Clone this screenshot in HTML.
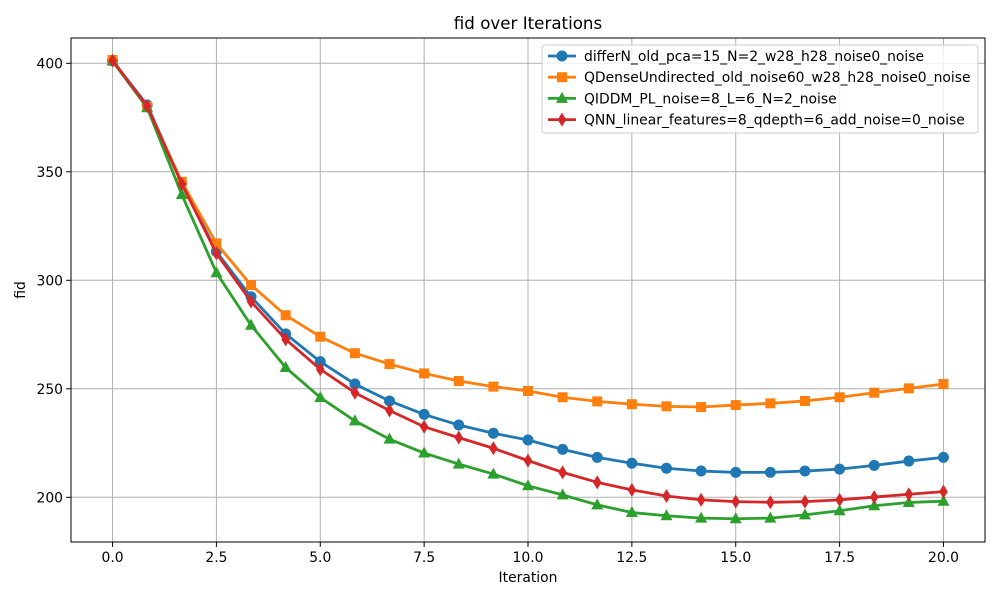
<!DOCTYPE html>
<html><head><meta charset="utf-8"><style>
body{margin:0;background:#fff;}
svg{display:block;font-family:"DejaVu Sans","Liberation Sans",sans-serif;}
</style></head><body>
<svg id="chart" width="1000" height="600" xmlns="http://www.w3.org/2000/svg">
<rect x="0" y="0" width="1000" height="600" fill="#fff"/>
<g id="grid"></g>
<g id="series"></g>
<rect x="71" y="38" width="914" height="504" fill="none" stroke="#000" stroke-width="1"/>
<g id="ticks"></g>
<text x="528" y="29" text-anchor="middle" font-size="16.7">fid over Iterations</text>
<text x="528" y="582" text-anchor="middle" font-size="13.9">Iteration</text>
<text x="25" y="290" text-anchor="middle" font-size="13.9" transform="rotate(-90 25 290)">fid</text>
<g id="legend"></g>
</svg>
<script>
const xTicks=[0,2.5,5,7.5,10,12.5,15,17.5,20];
const xTickLabels=["0.0","2.5","5.0","7.5","10.0","12.5","15.0","17.5","20.0"];
const yTicks=[200,250,300,350,400];
const yTickLabels=["200","250","300","350","400"];
const seriesNames=["differN_old_pca=15_N=2_w28_h28_noise0_noise","QDenseUndirected_old_noise60_w28_h28_noise0_noise","QIDDM_PL_noise=8_L=6_N=2_noise","QNN_linear_features=8_qdepth=6_add_noise=0_noise"];
const blueVals=[401.2,380.8,344.7,313.2,292.4,275.3,262.5,252.2,244.4,238.2,233.3,229.5,226.4,222.1,218.4,215.7,213.4,212.1,211.5,211.5,212.1,213,214.7,216.7,218.4];
const orangeVals=[401.5,380,345.4,317,297.8,283.9,274,266.4,261.4,257.1,253.6,251,249,246.1,244.2,242.9,241.9,241.6,242.5,243.3,244.4,246.1,248.2,250.2,252.2];
const greenVals=[401,379.5,339.5,303.5,279.3,259.8,246,235.2,226.8,220.4,215.3,210.7,205.3,201.1,196.5,193,191.5,190.4,190.1,190.4,191.9,193.8,196.1,197.6,198.2];
const redVals=[401.2,380.3,344.4,312.4,290.2,272.8,259,248.2,240,232.5,227.5,222.6,216.9,211.5,206.9,203.4,200.6,198.8,198,197.7,198,198.8,200.1,201.4,202.6];
const colors=["#1f77b4","#ff7f0e","#2ca02c","#d62728"];
const markers=["circle","square","triangle","diamond"];

const NS="http://www.w3.org/2000/svg";
const X0=71,X1=985,Y0=38,Y1=542, XMIN=-1,XMAX=21, YMIN=179.4,YMAX=411.66;
function sx(v){return X0+(v-XMIN)/(XMAX-XMIN)*(X1-X0);}
function sy(v){return Y1-(v-YMIN)/(YMAX-YMIN)*(Y1-Y0);}
function mk(tag,attrs,parent){const e=document.createElementNS(NS,tag);for(const k in attrs)e.setAttribute(k,attrs[k]);parent.appendChild(e);return e;}
const grid=document.getElementById('grid'),ticks=document.getElementById('ticks');
xTicks.forEach((t,i)=>{
  const x=sx(t);
  const g=mk('line',{x1:x,x2:x,y1:Y0,y2:Y1,stroke:'#b0b0b0','stroke-width':1},grid);
  
  
  mk('line',{x1:x,x2:x,y1:Y1,y2:Y1+4.9,stroke:'#000'},ticks);
  const tl=mk('text',{x:x,y:Y1+20,'text-anchor':'middle','font-size':13.9},ticks);
  tl.textContent=xTickLabels[i];
  
  
});
yTicks.forEach((t,i)=>{
  const y=sy(t);
  const g=mk('line',{x1:X0,x2:X1,y1:y,y2:y,stroke:'#b0b0b0','stroke-width':1},grid);
  
  
  mk('line',{x1:X0-4.9,x2:X0,y1:y,y2:y,stroke:'#000'},ticks);
  const tl=mk('text',{x:X0-8,y:y+5,'text-anchor':'end','font-size':13.9},ticks);
  tl.textContent=yTickLabels[i];
  
  
});
function marker(type,x,y,c,parent){
  let e;
  if(type==='circle')e=mk('circle',{cx:x,cy:y,r:5.5,fill:c},parent);
  else if(type==='square')e=mk('rect',{x:x-5,y:y-5,width:10,height:10,fill:c},parent);
  else if(type==='triangle')e=mk('polygon',{points:`${x},${y-6.5} ${x-6},${y+4.5} ${x+6},${y+4.5}`,fill:c},parent);
  else e=mk('polygon',{points:`${x},${y-7} ${x-4.3},${y} ${x},${y+7} ${x+4.3},${y}`,fill:c},parent);
  return e;
}
const sg=document.getElementById('series');
[blueVals,orangeVals,greenVals,redVals].forEach((vals,si)=>{
  const g=mk('g',{},sg);
  
  
  const pts=vals.map((v,i)=>sx(i*20/24)+','+sy(v)).join(' ');
  const pl=mk('polyline',{points:pts,fill:'none',stroke:colors[si],'stroke-width':2.8,'stroke-linejoin':'round'},g);
  
  
  vals.forEach((v,i)=>{
    const m=marker(markers[si],sx(i*20/24),sy(v),colors[si],g);
    
    
  });
});
const lg=document.getElementById('legend');
const box=mk('rect',{x:542,y:45,width:436,height:88,rx:3,fill:'#fff','fill-opacity':0.8,stroke:'#ccc'},lg);


seriesNames.forEach((n,i)=>{
  const y=56+i*21.2;
  const e=mk('g',{},lg);
  
  
  mk('line',{x1:548,x2:576,y1:y,y2:y,stroke:colors[i],'stroke-width':2.8},e);
  marker(markers[i],562,y,colors[i],e);
  const t=mk('text',{x:584,y:y+5,'font-size':13.9},e);
  t.textContent=n;
});
</script>
</body></html>
